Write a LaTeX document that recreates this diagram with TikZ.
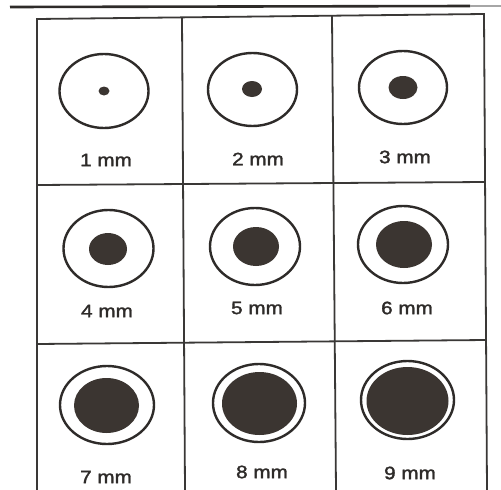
\documentclass[tikz,border=0pt]{standalone}
\usepackage{fontspec}
\setmainfont{Liberation Sans}
\newfontfamily\lblfont[FakeBold=1.6]{Liberation Sans}
\definecolor{ink}{HTML}{2E2B29}
\definecolor{dotfill}{HTML}{3B3531}
\definecolor{gridc}{HTML}{3A3836}
\tikzset{
  gridline/.style={draw=gridc, line width=1.8pt},
  ring/.style={draw=ink, line width=2.4pt},
  pupil/.style={fill=dotfill},
  lbl/.style={text=ink, font=\lblfont\fontsize{18}{20}\selectfont, inner sep=0pt}
}
\newcommand{\mmlabel}[1]{\scalebox{1.15}[1]{#1}}
\begin{document}
\begin{tikzpicture}[x=1pt,y=-1pt]
\useasboundingbox[fill=white] (0,0) rectangle (501,490);
% top stripe
\coordinate (s1) at (10,7);
\coordinate (s2) at (470,6);
\coordinate (s3) at (501,6);
\draw[draw=ink, line width=2.6pt] (s1) -- (s2);
\draw[draw=gray!70, line width=2.6pt] (s2) -- (s3);
% grid
\coordinate (tl) at (37,19);
\coordinate (tr) at (484,14);
\coordinate (bl) at (37,490);
\coordinate (br) at (487,490);
\coordinate (v1t) at (182,18);
\coordinate (v1b) at (185,490);
\coordinate (v2t) at (332,16);
\coordinate (v2b) at (336,490);
\coordinate (h1l) at (37,185);
\coordinate (h1r) at (484.5,182);
\coordinate (h2l) at (37,344);
\coordinate (h2r) at (486,340);
\draw[gridline] (bl) -- (tl) -- (tr) -- (br);
\draw[gridline] (v1t) -- (v1b);
\draw[gridline] (v2t) -- (v2b);
\draw[gridline] (h1l) -- (h1r);
\draw[gridline] (h2l) -- (h2r);
% cells
\foreach \cx/\cy/\rx/\ry/\dx/\dy/\drx/\dry/\lx/\ly/\n in {
  104/91/44.5/37/104/91/5.5/4.5/106/160/1,
  252.5/89.5/44.5/36.5/252/89/10/8/258/159/2,
  403/87.5/44/36.5/403/87.5/14.5/11.5/405/157/3,
  108.5/248.5/45/38.5/108/249/19/16/107/311/4,
  255/246.5/45/38.5/256/246.5/23/19.5/257/308/5,
  403/244.5/45/38.5/404/244.5/28/23.5/407/308/6,
  107/405/47/39/106.5/405.5/32.5/27.5/106/477/7,
  259/403/46/39/259.5/403.5/37.5/31.5/262/472/8,
  407.5/400/46.5/39/407.5/401/41/34/410/473/9}
{
  \draw[ring] (\cx,\cy) ellipse [x radius=\rx pt, y radius=\ry pt];
  \fill[pupil] (\dx,\dy) ellipse [x radius=\drx pt, y radius=\dry pt];
  \node[lbl] (l\n) at (\lx,\ly) {\mmlabel{\n~mm}};
}
\end{tikzpicture}
\end{document}
